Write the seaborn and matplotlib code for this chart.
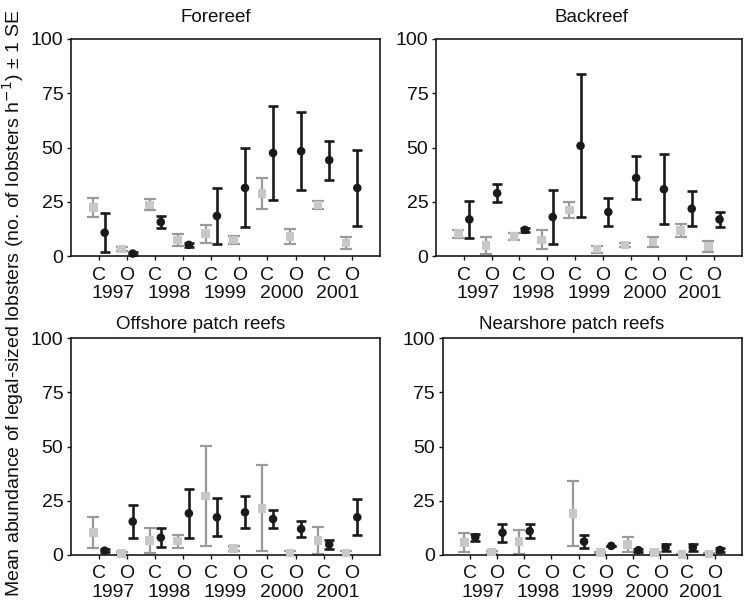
import numpy as np
import pandas as pd
import matplotlib
matplotlib.use('Agg')
import matplotlib.pyplot as plt
import seaborn as sns

# categories along the x axis: C/O for each year
years = ['1997', '1998', '1999', '2000', '2001']
zones = ['C', 'O']
nan = np.nan

panel_titles = ['Forereef', 'Backreef', 'Offshore patch reefs', 'Nearshore patch reefs']

# grey series (squares) - mean and SE, ordered C1997, O1997, C1998, ...
fore_grey = [22.3, 3.2, 23.6, 7.4, 10.3, 7.4, 28.8, 9.0, 23.6, 6.0]
fore_grey_se = [4.3, 0.8, 2.5, 2.9, 4.1, 2.0, 7.2, 3.6, 2.0, 2.6]
back_grey = [10.3, 4.9, 9.1, 7.5, 21.3, 3.2, 5.2, 6.5, 11.8, 4.5]
back_grey_se = [1.8, 3.8, 1.5, 4.4, 3.6, 1.6, 0.9, 2.2, 2.8, 2.5]
off_grey = [10.4, 0.8, 6.7, 6.4, 27.3, 3.0, 21.5, 0.9, 6.7, 1.0]
off_grey_se = [7.0, 0.8, 5.6, 3.0, 23.2, 1.0, 19.8, 0.9, 6.4, 0.9]
near_grey = [5.7, 1.3, 6.1, nan, 19.2, 1.1, 4.9, 1.1, 0.2, 0.4]
near_grey_se = [4.5, 0.7, 5.6, nan, 15.0, 0.3, 3.6, 0.4, 0.4, 0.4]

# black series (circles)
fore_black = [10.8, 1.2, 15.7, 5.2, 18.5, 31.4, 47.5, 48.3, 44.2, 31.4]
fore_black_se = [9.0, 0.6, 2.6, 1.0, 13.0, 18.2, 21.5, 18.0, 9.0, 17.6]
back_black = [16.9, 29.0, 12.1, 18.0, 50.8, 20.3, 36.0, 30.8, 21.8, 16.9]
back_black_se = [8.6, 4.0, 1.0, 12.6, 33.0, 6.6, 9.9, 16.2, 8.1, 3.6]
off_black = [2.0, 15.4, 8.0, 19.2, 17.4, 19.7, 16.6, 12.0, 4.9, 17.4]
off_black_se = [0.8, 7.7, 4.3, 11.4, 8.8, 7.3, 4.0, 3.8, 2.0, 8.3]
near_black = [8.2, 10.3, 11.0, nan, 6.2, 4.2, 2.2, 3.5, 3.5, 2.3]
near_black_se = [1.7, 4.2, 3.3, nan, 3.0, 0.0, 0.7, 1.6, 1.7, 1.1]

grey_means = [fore_grey, back_grey, off_grey, near_grey]
grey_ses = [fore_grey_se, back_grey_se, off_grey_se, near_grey_se]
black_means = [fore_black, back_black, off_black, near_black]
black_ses = [fore_black_se, back_black_se, off_black_se, near_black_se]

sns.set_style('ticks')
plt.rcParams['font.family'] = ['Liberation Sans', 'DejaVu Sans']
plt.rcParams['font.size'] = 14
plt.rcParams['text.color'] = '#111111'
plt.rcParams['xtick.color'] = '#111111'
plt.rcParams['ytick.color'] = '#111111'

fig = plt.figure(figsize=(7.44, 6.07), dpi=100)
boxes = [
    [0.0954, 0.578, 0.415, 0.358],
    [0.586, 0.578, 0.411, 0.358],
    [0.0954, 0.0857, 0.415, 0.357],
    [0.595, 0.0857, 0.402, 0.357],
]
title_x = [0.47, 0.51, 0.42, 0.43]
title_pad = [9, 9, 3.5, 3.5]

cats = [z + y for y in years for z in zones]
xpos = np.arange(len(cats))

for k in range(4):
    ax = fig.add_axes(boxes[k])
    df = pd.DataFrame({
        'x': np.concatenate([xpos - 0.2, xpos + 0.2]),
        'mean': np.concatenate([grey_means[k], black_means[k]]),
        'se': np.concatenate([grey_ses[k], black_ses[k]]),
        'series': ['grey'] * len(cats) + ['black'] * len(cats),
    })
    g = df[df.series == 'grey']
    b = df[df.series == 'black']

    ax.errorbar(g['x'], g['mean'], yerr=g['se'], fmt='none', ecolor='#9a9a9a',
                elinewidth=1.6, capsize=4.3, capthick=1.6, clip_on=False, zorder=2)
    ax.errorbar(b['x'], b['mean'], yerr=b['se'], fmt='none', ecolor='#1a1a1a',
                elinewidth=1.9, capsize=3.7, capthick=1.9, clip_on=False, zorder=2)
    sns.scatterplot(data=df, x='x', y='mean', hue='series', style='series',
                    palette={'grey': '#c8c8c8', 'black': '#1a1a1a'},
                    markers={'grey': 's', 'black': 'o'}, s=38, linewidth=0,
                    legend=False, ax=ax, clip_on=False, zorder=3)

    ax.set_xlim(-1, 10)
    ax.set_ylim(0, 100)
    ax.set_yticks([0, 25, 50, 75, 100])
    ax.set_xticks(xpos)
    ax.set_xticklabels([c[0] for c in cats])
    ax.set_xlabel('')
    ax.set_ylabel('')
    ax.tick_params(axis='both', length=3, width=1, pad=2.5, labelsize=14)
    ax.tick_params(axis='x', pad=4.5)
    for sp in ax.spines.values():
        sp.set_linewidth(1.2)
        sp.set_color('#1a1a1a')

    for i, y in enumerate(years):
        ax.annotate(y, xy=(2 * i + 0.5, 0), xycoords=('data', 'axes fraction'),
                    xytext=(0, -27), textcoords='offset points',
                    ha='center', va='center', fontsize=14)

    ax.annotate(panel_titles[k], xy=(title_x[k], 1), xycoords='axes fraction',
                xytext=(0, title_pad[k]), textcoords='offset points',
                ha='center', va='bottom', fontsize=13.5)

fig.text(0.017, 0.5,
         'Mean abundance of legal-sized lobsters (no. of lobsters h$^{-1}$) \u00b1 1 SE',
         rotation=90, ha='center', va='center', fontsize=14)

fig.savefig('out.png', dpi=100)
